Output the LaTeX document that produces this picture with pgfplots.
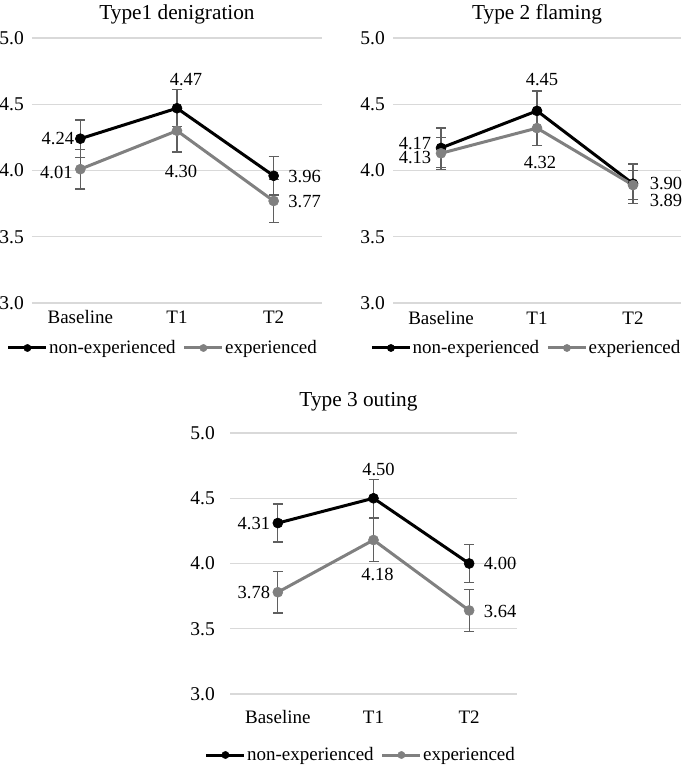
\documentclass[border=0pt]{standalone}
\usepackage{fontspec}
\setmainfont{Liberation Serif}
\usepackage{pgfplots}
\pgfplotsset{compat=1.18}
\usepackage{pgfplotstable}
\definecolor{grayline}{RGB}{128,128,128}
\definecolor{errcol}{RGB}{95,95,95}
\definecolor{gridcol}{RGB}{217,217,217}

% Type 1 denigration
\pgfplotstableread{
x y e lab dx dy
0 4.24 0.14 4.24 -22.5 0
1 4.47 0.14 4.47 9 29
2 3.96 0.145 3.96 31 -1
}\AnonA
\pgfplotstableread{
x y e lab dx dy
0 4.01 0.15 4.01 -24 -3
1 4.30 0.16 4.30 4 -41
2 3.77 0.16 3.77 31 -1
}\AexpA
% Type 2 flaming
\pgfplotstableread{
x y e lab dx dy
0 4.17 0.15 4.17 -26 4
1 4.45 0.15 4.45 5 31
2 3.90 0.15 3.90 33 0
}\AnonB
\pgfplotstableread{
x y e lab dx dy
0 4.13 0.12 4.13 -26 -4
1 4.32 0.13 4.32 3 -34
2 3.89 0.11 3.89 33 -15.5
}\AexpB
% Type 3 outing
\pgfplotstableread{
x y e lab dx dy
0 4.31 0.145 4.31 -24 0
1 4.50 0.145 4.50 5 29
2 4.00 0.145 4.00 31 0
}\AnonC
\pgfplotstableread{
x y e lab dx dy
0 3.78 0.16 3.78 -24 0
1 4.18 0.165 4.18 4 -34
2 3.64 0.16 3.64 31 -1
}\AexpC

\pgfplotsset{
  base/.style={
    scale only axis,
    xmin=-0.5, xmax=2.5, ymin=3, ymax=5,
    xtick={0,1,2}, xticklabels={Baseline,T1,T2},
    ytick={3,3.5,4,4.5,5}, yticklabels={3.0,3.5,4.0,4.5,5.0},
    ymajorgrids, grid style={gridcol, line width=1.2pt},
    axis line style={draw=none}, major tick style={draw=none},
    clip=false,
    xticklabel style={anchor=center, font=\fontsize{19}{21}\selectfont, inner sep=0pt},
    yticklabel style={anchor=east, font=\fontsize{19.5}{21}\selectfont, inner sep=0pt},
    title style={font=\fontsize{21.3}{24}\selectfont, at={(0.5,1)}, anchor=center},
    legend columns=-1,
    legend style={draw=none, fill=none, at={(0.5,0)}, anchor=center,
      font=\fontsize{19}{21}\selectfont,
      nodes={inner sep=1.2pt},
      /tikz/every even column/.append style={column sep=6pt}},
    legend image code/.code={
      \draw[mark repeat=2, mark phase=2, #1] plot coordinates {(0pt,0pt) (19pt,0pt) (38pt,0pt)};
    },
  },
  ser/.style={
    line width=3pt, mark=*, mark size=5pt,
    error bars/.cd, y dir=both, y explicit,
      error bar style={line width=1.3pt, errcol},
      error mark options={rotate=90, mark size=5pt, line width=1.3pt, errcol},
    /pgfplots/.cd,
    nodes near coords, point meta=explicit symbolic,
    visualization depends on={\thisrow{dx}\as\dx},
    visualization depends on={\thisrow{dy}\as\dy},
    every node near coord/.append style={anchor=center, text=black,
      font=\fontsize{18.5}{20}\selectfont, inner sep=0pt,
      xshift=\dx pt, yshift=\dy pt},
  },
  nexp/.style={ser, black, mark options={solid, fill=black, draw=black, line width=0.6pt}},
  expd/.style={ser, grayline, mark options={solid, fill=grayline, draw=grayline, line width=0.6pt}},
  legnexp/.style={black, line width=3pt, mark=*, mark size=3.6pt, mark options={solid, fill=black, line width=0.5pt}},
  legexpd/.style={grayline, line width=3pt, mark=*, mark size=3.6pt, mark options={solid, fill=grayline, line width=0.5pt}},
}

\begin{document}
\begin{tikzpicture}
\useasboundingbox (0,0) rectangle (685pt,766pt);

\begin{axis}[base, at={(32pt,463pt)}, anchor=south west, width=290pt, height=265pt,
  title={Type1 denigration}, title style={yshift=17.5pt},
  xticklabel style={yshift=-14.5pt}, yticklabel style={xshift=-8pt},
  legend style={yshift=-45pt, xshift=-14.5pt}]
\addlegendimage{legnexp}\addlegendentry{non-experienced}
\addlegendimage{legexpd}\addlegendentry{experienced}
\addplot[nexp, forget plot] table[x=x, y=y, y error=e, meta=lab] {\AnonA};
\addplot[expd, forget plot] table[x=x, y=y, y error=e, meta=lab] {\AexpA};
\end{axis}

\begin{axis}[base, at={(393pt,463pt)}, anchor=south west, width=288pt, height=265pt,
  title={Type 2 flaming}, title style={yshift=17.5pt},
  xticklabel style={yshift=-15.5pt}, yticklabel style={xshift=-8pt},
  legend style={yshift=-45pt, xshift=-11pt}]
\addlegendimage{legnexp}\addlegendentry{non-experienced}
\addlegendimage{legexpd}\addlegendentry{experienced}
\addplot[nexp, forget plot] table[x=x, y=y, y error=e, meta=lab] {\AnonB};
\addplot[expd, forget plot] table[x=x, y=y, y error=e, meta=lab] {\AexpB};
\end{axis}

\begin{axis}[base, at={(230pt,72pt)}, anchor=south west, width=287pt, height=261pt,
  title={Type 3 outing}, title style={yshift=25pt, xshift=-15pt},
  xticklabel style={yshift=-23.5pt}, yticklabel style={xshift=-15pt},
  legend style={yshift=-61pt, xshift=-13pt}]
\addlegendimage{legnexp}\addlegendentry{non-experienced}
\addlegendimage{legexpd}\addlegendentry{experienced}
\addplot[nexp, forget plot] table[x=x, y=y, y error=e, meta=lab] {\AnonC};
\addplot[expd, forget plot] table[x=x, y=y, y error=e, meta=lab] {\AexpC};
\end{axis}
\end{tikzpicture}
\end{document}
